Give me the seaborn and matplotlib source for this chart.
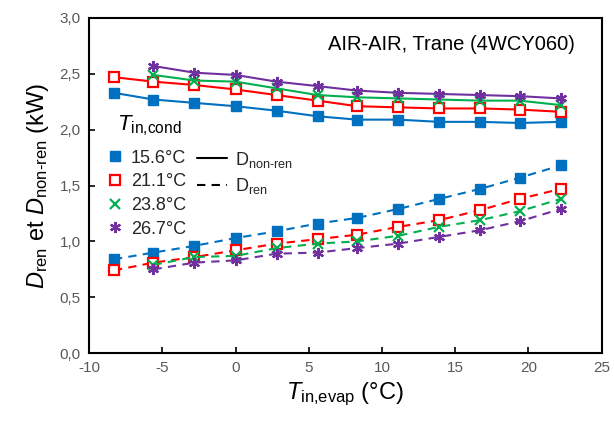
import numpy as np
import pandas as pd
import seaborn as sns
import matplotlib
matplotlib.use("Agg")
import matplotlib.pyplot as plt
from matplotlib.lines import Line2D
from matplotlib.ticker import FuncFormatter

# ---- data ----
t_evap = [-8.3, -5.6, -2.8, 0.0, 2.8, 5.6, 8.3, 11.1, 13.9, 16.7, 19.4, 22.2]
cond_labels = ["15.6°C", "21.1°C", "23.8°C", "26.7°C"]

nonren_156 = [2.33, 2.27, 2.24, 2.21, 2.17, 2.12, 2.09, 2.09, 2.07, 2.07, 2.06, 2.07]
nonren_211 = [2.47, 2.43, 2.40, 2.36, 2.31, 2.26, 2.21, 2.20, 2.19, 2.19, 2.18, 2.16]
nonren_238 = [np.nan, 2.49, 2.44, 2.43, 2.37, 2.31, 2.29, 2.28, 2.27, 2.26, 2.26, 2.22]
nonren_267 = [np.nan, 2.57, 2.51, 2.49, 2.43, 2.39, 2.35, 2.33, 2.32, 2.31, 2.30, 2.28]

ren_156 = [0.84, 0.90, 0.96, 1.03, 1.09, 1.16, 1.21, 1.29, 1.38, 1.47, 1.57, 1.68]
ren_211 = [0.74, 0.81, 0.86, 0.92, 0.98, 1.02, 1.06, 1.13, 1.19, 1.28, 1.38, 1.47]
ren_238 = [np.nan, 0.79, 0.86, 0.87, 0.94, 0.98, 1.00, 1.05, 1.13, 1.19, 1.27, 1.38]
ren_267 = [np.nan, 0.75, 0.81, 0.83, 0.89, 0.90, 0.94, 0.98, 1.04, 1.10, 1.18, 1.29]

nonren = [nonren_156, nonren_211, nonren_238, nonren_267]
ren = [ren_156, ren_211, ren_238, ren_267]

x_ticks = [-10, -5, 0, 5, 10, 15, 20, 25]
y_ticks = [0.0, 0.5, 1.0, 1.5, 2.0, 2.5, 3.0]

# ---- style ----
colors = ["#0070C0", "#FF0000", "#00B050", "#7030A0"]
markers = ["s", "s", "x", (6, 2, 0)]
faces = ["#0070C0", "white", "#00B050", "#7030A0"]
msizes = [7.5, 7.5, 7, 8]
medge = [1.0, 1.6, 1.6, 1.6]

sns.set_theme(style="white")
plt.rcParams["font.family"] = ["Liberation Sans", "DejaVu Sans"]
plt.rcParams["mathtext.fontset"] = "custom"
plt.rcParams["mathtext.rm"] = "Liberation Sans"
plt.rcParams["mathtext.it"] = "Liberation Sans:italic"
plt.rcParams["mathtext.bf"] = "Liberation Sans:bold"

fig = plt.figure(figsize=(6.14, 4.28), dpi=100)
ax = fig.add_axes([0.145, 0.175, 0.835, 0.783])

for i in range(4):
    df_n = pd.DataFrame({"x": t_evap, "y": nonren[i]}).dropna()
    df_r = pd.DataFrame({"x": t_evap, "y": ren[i]}).dropna()
    for df, ls in ((df_n, "-"), (df_r, (0, (4, 3)))):
        sns.lineplot(data=df, x="x", y="y", ax=ax, color=colors[i],
                     linestyle=ls, linewidth=1.5, marker=markers[i],
                     markersize=msizes[i], markerfacecolor=faces[i],
                     markeredgecolor=colors[i], markeredgewidth=medge[i],
                     legend=False, estimator=None, sort=False)

ax.set_xlim(-10, 25)
ax.set_ylim(0, 3.0)
ax.set_xticks(x_ticks)
ax.set_yticks(y_ticks)
ax.yaxis.set_major_formatter(FuncFormatter(lambda v, p: f"{v:.1f}".replace(".", ",")))
ax.xaxis.set_major_formatter(FuncFormatter(lambda v, p: f"{v:.0f}"))
ax.tick_params(axis="both", direction="in", length=4, width=1.2, colors="black",
               labelsize=11, labelcolor="#595959", bottom=True, left=True, pad=6)
for s in ax.spines.values():
    s.set_color("black")
    s.set_linewidth(1.5)
ax.set_xlabel(r"$T_{\rm in{,}evap}$ (°C)", fontsize=17, color="black", labelpad=4)
ax.set_ylabel(r"$D_{\rm ren}$ et $D_{\rm non\text{-}ren}$ (kW)", fontsize=17,
              color="black", labelpad=6)

ax.text(0.947, 0.92, "AIR-AIR, Trane (4WCY060)", transform=ax.transAxes,
        ha="right", va="center", fontsize=14.5, color="black")

# legend for condenser temperatures
h1 = [Line2D([], [], linestyle="none", marker=markers[i], markersize=msizes[i],
             markerfacecolor=faces[i], markeredgecolor=colors[i],
             markeredgewidth=medge[i]) for i in range(4)]
leg1 = ax.legend(h1, cond_labels, loc="upper left", bbox_to_anchor=(0.008, 0.645),
                 frameon=False, fontsize=13, handlelength=1.0, handletextpad=0.4,
                 labelspacing=0.37, borderaxespad=0.3)
ax.add_artist(leg1)
ax.text(0.055, 0.678, r"$T_{\rm in{,}cond}$", transform=ax.transAxes, fontsize=16,
        ha="left", va="center", color="black")

h2 = [Line2D([], [], color="black", linestyle="-", linewidth=1.5),
      Line2D([], [], color="black", linestyle=(0, (4, 3)), linewidth=1.5)]
ax.legend(h2, [r"D$_{\rm non\text{-}ren}$", r"D$_{\rm ren}$"], loc="upper left",
          bbox_to_anchor=(0.186, 0.645), frameon=False, fontsize=13,
          handlelength=1.65, handletextpad=0.45, labelspacing=0.37, borderaxespad=0.3)

fig.savefig("out.png", dpi=100)
